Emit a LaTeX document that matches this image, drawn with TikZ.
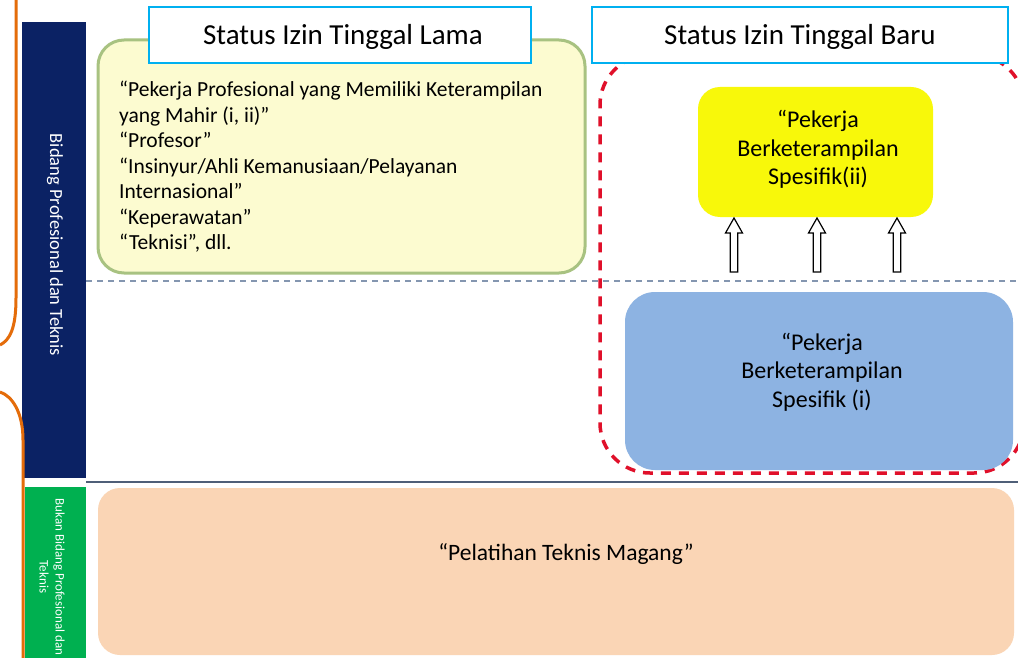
\documentclass[tikz,border=0pt]{standalone}
\usepackage{fontspec}
\setmainfont{Carlito}
\definecolor{navy}{RGB}{11,34,100}
\definecolor{greenbar}{RGB}{0,176,80}
\definecolor{peach}{RGB}{250,213,181}
\definecolor{bluebox}{RGB}{141,179,226}
\definecolor{yellowbox}{RGB}{248,248,10}
\definecolor{oldgreen}{RGB}{168,194,129}
\definecolor{oldfill}{RGB}{252,251,208}
\definecolor{titleblue}{RGB}{0,176,240}
\definecolor{reddash}{RGB}{224,16,42}
\definecolor{orangeline}{RGB}{228,108,10}
\definecolor{dashgray}{RGB}{132,150,176}
\definecolor{solidgray}{RGB}{79,95,120}
\tikzset{
  shapebox/.style={anchor=north west, inner sep=0pt, outer sep=0pt},
  titlebox/.style={shapebox, draw=titleblue, line width=1.5pt, fill=white},
  titletext/.style={anchor=base, inner sep=0pt, font=\fontsize{29}{34}\selectfont},
  boxtext/.style={anchor=base, inner sep=0pt, text width=#1, align=flush center, font=\fontsize{24}{28.5}\selectfont},
  orangestroke/.style={draw=orangeline, line width=3pt},
  sepdash/.style={draw=dashgray, line width=2pt, dash pattern=on 6pt off 5pt},
  sepsolid/.style={draw=solidgray, line width=2pt},
  pics/hollowup/.style={code={
    \draw[black, line width=1.2pt, fill=white, line join=miter]
      (-3.8,0) -- (3.8,0) -- (3.8,-39) -- (8.5,-39) -- (0,-54) -- (-8.5,-39) -- (-3.8,-39) -- cycle;}}
}
\begin{document}
\begin{tikzpicture}[x=1pt,y=-1pt]
\useasboundingbox (0,0) rectangle (1018,658);
\clip (0,0) rectangle (1018,658);
\fill[white] (0,0) rectangle (1018,658);

% left bars
\node[shapebox, fill=navy, minimum width=64pt, minimum height=456pt] (navybar) at (22,22) {};
\node[rotate=-90, text=white, inner sep=0pt, font=\fontsize{18.5}{22}\selectfont] (navytext) at (55,245) {Bidang Profesional dan Teknis};
\node[shapebox, fill=greenbar, minimum width=61pt, minimum height=175pt] (greenbar) at (25,487) {};
\node[rotate=-90, text=white, inner sep=0pt, align=flush center, font=\fontsize{13}{16}\selectfont] (greentext) at (52,577) {Bukan Bidang Profesional dan\\Teknis};

% orange partial outlines
\draw[orangestroke] (16,0) -- (16,298) .. controls (16,328) and (10,340) .. (0,345);
\draw[orangestroke] (0,392) .. controls (12,396) and (23,412) .. (23,440) -- (23,658);

% old status box
\node[shapebox, draw=oldgreen, line width=3pt, fill=oldfill, rounded corners=26pt, minimum width=487pt, minimum height=233pt] (oldbox) at (98,40) {};
\node[anchor=base west, inner sep=0pt, text width=470pt, align=flush left, font=\fontsize{21.5}{25.5}\selectfont] (oldtext) at (119,96.7)
 {“Pekerja Profesional yang Memiliki Keterampilan\\ yang Mahir (i, ii)”\\ “Profesor”\\ “Insinyur/Ahli Kemanusiaan/Pelayanan\\ Internasional”\\ “Keperawatan”\\ “Teknisi”, dll.};

% new status frame
\node[shapebox, draw=reddash, line width=3.5pt, dash pattern=on 10pt off 8pt, rounded corners=50pt, minimum width=424pt, minimum height=418pt] (newframe) at (600,55) {};

% separators
\coordinate (dashL) at (86,281);
\coordinate (dashR) at (1018,281);
\draw[sepdash] (dashL) -- (dashR);
\coordinate (solidL) at (86,482);
\coordinate (solidR) at (1018,482);
\draw[sepsolid] (solidL) -- (solidR);

% yellow box
\node[shapebox, fill=yellowbox, rounded corners=22pt, minimum width=235pt, minimum height=130pt] (sk2) at (698,87) {};
\node[boxtext=220pt] (sk2text) at (818,128) {“Pekerja\\Berketerampilan\\Spesifik(ii)};

% blue box
\node[shapebox, fill=bluebox, rounded corners=30pt, minimum width=388pt, minimum height=178pt] (sk1) at (625,292) {};
\node[boxtext=250pt] (sk1text) at (822,350) {“Pekerja\\Berketerampilan\\Spesifik (i)};

% arrows
\pic at (734,272) {hollowup};
\pic at (817,272) {hollowup};
\pic at (897,272) {hollowup};

% peach box
\node[shapebox, fill=peach, rounded corners=22pt, minimum width=916pt, minimum height=167pt] (intern) at (98,488) {};
\node[anchor=base, inner sep=0pt, font=\fontsize{23.5}{28}\selectfont] (interntext) at (566,560) {“Pelatihan Teknis Magang”};

% titles
\node[titlebox, minimum width=382pt, minimum height=56pt] (oldtitle) at (149,7) {};
\node[titletext] (oldtitletext) at (343,45) {Status Izin Tinggal Lama};
\node[titlebox, minimum width=416pt, minimum height=56pt] (newtitle) at (592,7) {};
\node[titletext] (newtitletext) at (800,45) {Status Izin Tinggal Baru};
\end{tikzpicture}
\end{document}
